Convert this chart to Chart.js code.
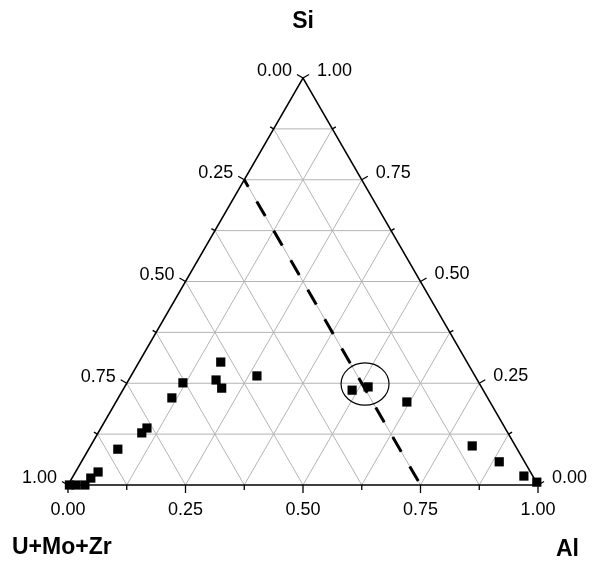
<!DOCTYPE html>
<html>
<head>
<meta charset="utf-8">
<script src="https://cdn.jsdelivr.net/npm/chart.js@4"></script>
<style>
  html, body { margin: 0; padding: 0; background: #fff; }
  canvas { display: block; }
</style>
</head>
<body>
<canvas id="tern" width="592" height="562"></canvas>
<script>
// Ternary fractions (Al along the bottom, Si to the top, U+Mo+Zr = rest)
const pointsAl = [0.003, 0.017, 0.036, 0.040, 0.048, 0.062, 0.093, 0.098, 0.114, 0.119, 0.186,
  0.174, 0.208, 0.268, 0.488, 0.518, 0.619, 0.812, 0.889, 0.959, 0.994];
const pointsSi = [0.000, 0.000, 0.000, 0.017, 0.032, 0.088, 0.128, 0.140, 0.214, 0.251, 0.258,
  0.302, 0.238, 0.268, 0.233, 0.241, 0.204, 0.096, 0.057, 0.022, 0.007];

const tickVals = [0, 0.25, 0.5, 0.75, 1];
const tickLabels = ["0.00", "0.25", "0.50", "0.75", "1.00"];
const minorVals = [0.125, 0.375, 0.625, 0.875];
const gridVals = [0.125, 0.25, 0.375, 0.5, 0.625, 0.75, 0.875];

const dashedU = 0.25; // line of constant U+Mo+Zr
const circleCenter = { al: 0.508, si: 0.248 };
const circleRadius = { x: 0.051, y: 0.045 }; // in x-axis units

const titleTop = "Si";
const titleLeft = "U+Mo+Zr";
const titleRight = "Al";

const H = Math.sqrt(3) / 2;
function tern(al, si) {
  return { x: al + si / 2, y: si * H };
}

// points first so they end up on top
let datasets = [
  {
    data: pointsAl.map((a, i) => tern(a, pointsSi[i])),
    pointStyle: "rect",
    pointRadius: 6.5,
    backgroundColor: "#000",
    borderColor: "#000",
    borderWidth: 0,
    showLine: false,
    clip: false,
  },
  {
    data: [tern(0, 1 - dashedU), tern(1 - dashedU, 0)],
    showLine: true,
    borderColor: "#000",
    borderWidth: 3,
    borderDash: [17, 17],
    borderDashOffset: 9,
    pointRadius: 0,
    clip: false,
  },
  {
    data: [tern(0, 0), tern(1, 0), tern(0, 1), tern(0, 0)],
    showLine: true,
    borderColor: "#000",
    borderWidth: 1.5,
    pointRadius: 0,
    clip: false,
  },
];

for (const t of gridVals) {
  const lines = [
    [tern(0, t), tern(1 - t, t)],
    [tern(t, 0), tern(t, 1 - t)],
    [tern(1 - t, 0), tern(0, 1 - t)],
  ];
  for (const l of lines) {
    datasets.push({
      data: l,
      showLine: true,
      borderColor: "#b4b4b4",
      borderWidth: 1,
      pointRadius: 0,
    });
  }
}

const ternaryAxes = {
  id: "ternaryAxes",
  beforeDatasetsDraw: function (chart) {
    const ctx = chart.ctx;
    const xs = chart.scales.x, ys = chart.scales.y;
    const pix = (p) => [xs.getPixelForValue(p.x), ys.getPixelForValue(p.y)];
    ctx.save();
    ctx.strokeStyle = "#000";
    ctx.lineWidth = 1.3;

    function tick(p, dx, dy, len) {
      const [x, y] = pix(p);
      ctx.beginPath();
      ctx.moveTo(x, y);
      ctx.lineTo(x + dx * len, y + dy * len);
      ctx.stroke();
      return [x + dx * len, y + dy * len];
    }

    // minor ticks
    for (const v of minorVals) {
      tick(tern(0, 1 - v), -H, -0.5, 4);
      tick(tern(1 - v, v), H, -0.5, 4);
      tick(tern(v, 0), 0, 1, 5);
    }

    ctx.fillStyle = "#000";
    ctx.font = "18px 'Liberation Sans', Arial, sans-serif";
    ctx.textBaseline = "middle";
    for (let i = 0; i < tickVals.length; i++) {
      const v = tickVals[i];
      // left axis: U+Mo+Zr
      let e = tick(tern(0, 1 - v), -H, -0.5, 7);
      ctx.textAlign = "right";
      ctx.fillText(tickLabels[i], e[0] - 5, e[1] - 3);
      // right axis: Si
      e = tick(tern(1 - v, v), H, -0.5, 7);
      ctx.textAlign = "left";
      ctx.fillText(tickLabels[i], e[0] + 8, e[1] - 3.5);
      // bottom axis: Al
      e = tick(tern(v, 0), 0, 1, 8);
      ctx.textAlign = "center";
      ctx.fillText(tickLabels[i], e[0], e[1] + 17);
    }

    ctx.font = "bold 23px 'Liberation Sans', Arial, sans-serif";
    ctx.textAlign = "center";
    ctx.fillText(titleTop, 303, 22);
    ctx.textAlign = "left";
    ctx.fillText(titleLeft, 12, 548);
    ctx.fillText(titleRight, 556, 550);
    ctx.restore();
  },
  afterDatasetsDraw: function (chart) {
    const ctx = chart.ctx;
    const xs = chart.scales.x, ys = chart.scales.y;
    const c = tern(circleCenter.al, circleCenter.si);
    const cx = xs.getPixelForValue(c.x), cy = ys.getPixelForValue(c.y);
    const rx = xs.getPixelForValue(c.x + circleRadius.x) - cx;
    const ry = cy - ys.getPixelForValue(c.y + circleRadius.y);
    ctx.save();
    ctx.strokeStyle = "#000";
    ctx.lineWidth = 1.2;
    ctx.beginPath();
    ctx.ellipse(cx, cy, rx, ry, 0, 0, Math.PI * 2);
    ctx.stroke();
    ctx.restore();
  },
};

new Chart(document.getElementById("tern"), {
  type: "scatter",
  data: { datasets: datasets },
  options: {
    responsive: false,
    animation: false,
    events: [],
    layout: { padding: { left: 68, right: 54, top: 78, bottom: 77 } },
    scales: {
      x: { type: "linear", min: 0, max: 1, display: false },
      y: { type: "linear", min: 0, max: H, display: false },
    },
    plugins: {
      legend: { display: false },
      tooltip: { enabled: false },
    },
  },
  plugins: [ternaryAxes],
});
</script>
</body>
</html>
